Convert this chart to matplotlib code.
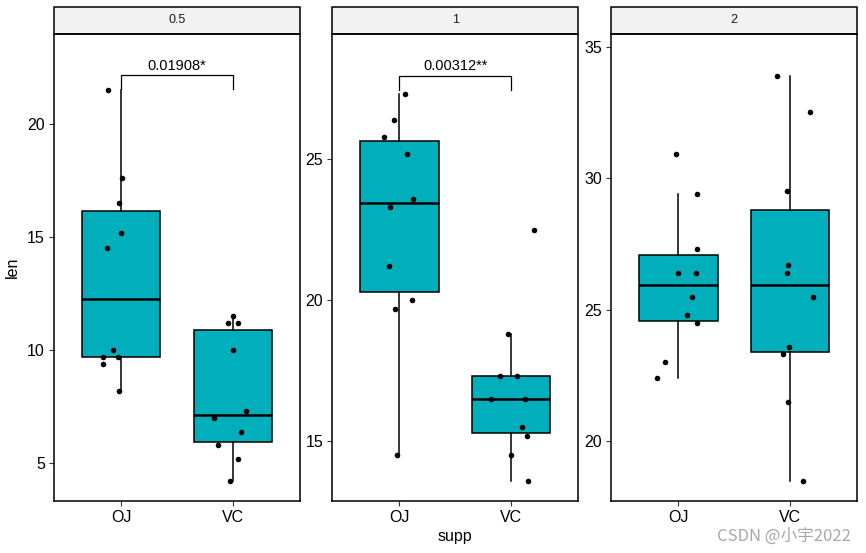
import numpy as np
import matplotlib
matplotlib.use("Agg")
import matplotlib.pyplot as plt
from matplotlib.patches import Rectangle

plt.rcParams['font.family'] = ['Liberation Sans', 'DejaVu Sans']

# ToothGrowth data, split by dose (panel) and supplement
doses = ['0.5', '1', '2']
supps = ['OJ', 'VC']

oj_05 = [15.2, 21.5, 17.6, 9.7, 14.5, 10.0, 8.2, 9.4, 16.5, 9.7]
vc_05 = [4.2, 11.5, 7.3, 5.8, 6.4, 10.0, 11.2, 11.2, 5.2, 7.0]
oj_1 = [19.7, 23.3, 23.6, 26.4, 20.0, 25.2, 25.8, 21.2, 14.5, 27.3]
vc_1 = [16.5, 16.5, 15.2, 17.3, 22.5, 17.3, 13.6, 14.5, 18.8, 15.5]
oj_2 = [25.5, 26.4, 22.4, 24.5, 24.8, 30.9, 26.4, 27.3, 29.4, 23.0]
vc_2 = [23.6, 18.5, 33.9, 25.5, 26.4, 32.5, 26.7, 21.5, 23.3, 29.5]

# horizontal jitter (in category units)
jit_oj_05 = [0.0, -0.12, 0.01, -0.16, -0.13, -0.07, -0.02, -0.16, -0.02, -0.03]
jit_vc_05 = [-0.03, 0.0, 0.12, -0.13, 0.07, 0.0, -0.04, 0.05, 0.05, -0.17]
jit_oj_1 = [-0.04, -0.08, 0.12, -0.05, 0.11, 0.07, -0.14, -0.09, -0.02, 0.05]
jit_vc_1 = [-0.18, 0.12, 0.14, -0.10, 0.20, 0.05, 0.15, 0.0, -0.03, 0.10]
jit_oj_2 = [0.12, 0.0, -0.19, 0.17, 0.08, -0.02, 0.16, 0.17, 0.17, -0.12]
jit_vc_2 = [-0.01, 0.11, -0.12, 0.20, -0.03, 0.18, -0.02, -0.02, -0.06, -0.03]

# p-value labels (None = not shown)
p_labels = ['0.01908*', '0.00312**', None]
bracket_y = [22.15, 27.96, None]
bracket_leg = [21.55, 27.47, None]

ylims = [(3.33, 23.98), (12.88, 29.44), (17.73, 35.48)]
yticks = [[5, 10, 15, 20], [15, 20, 25], [20, 25, 30, 35]]

data = [(oj_05, vc_05), (oj_1, vc_1), (oj_2, vc_2)]
jits = [(jit_oj_05, jit_vc_05), (jit_oj_1, jit_vc_1), (jit_oj_2, jit_vc_2)]

fig = plt.figure(figsize=(8.66, 5.53), dpi=100)
lefts = [54 / 866, 332.3 / 866, 611.3 / 866]
bottom = 1 - 501 / 553
height = (501 - 34) / 553
width = 246 / 866
strip_h = 27.5 / 467

box_col = '#00AFBB'
for i, d in enumerate(doses):
    ax = fig.add_axes([lefts[i], bottom, width, height])
    groups = data[i]
    ax.boxplot(groups, positions=[1, 2], widths=0.7, patch_artist=True,
               showfliers=False, showcaps=False,
               boxprops=dict(facecolor=box_col, edgecolor='black', linewidth=1.1),
               medianprops=dict(color='black', linewidth=1.8),
               whiskerprops=dict(color='black', linewidth=1.1),
               zorder=2)
    for k in range(2):
        xs = np.array(jits[i][k]) + (k + 1)
        ax.scatter(xs, groups[k], s=16, color='black', zorder=3, linewidths=0)
    if p_labels[i] is not None:
        ax.plot([1, 1, 2, 2], [bracket_leg[i], bracket_y[i], bracket_y[i], bracket_leg[i]],
                color='black', linewidth=0.9, zorder=4)
        ax.text(1.5, bracket_y[i] + (ylims[i][1] - ylims[i][0]) * 0.006, p_labels[i],
                ha='center', va='bottom', fontsize=10.5)
    ax.set_xlim(0.4, 2.6)
    ax.set_ylim(*ylims[i])
    ax.set_yticks(yticks[i])
    ax.set_xticks([1, 2])
    ax.set_xticklabels(supps)
    ax.tick_params(axis='both', direction='out', length=3.5, width=0.8, color='#333333',
                   labelsize=11.5, labelcolor='black', pad=3)
    for sp in ax.spines.values():
        sp.set_linewidth(1.1)
        sp.set_color('black')
    strip = Rectangle((0, 1), 1, strip_h, transform=ax.transAxes, clip_on=False,
                      facecolor='#F2F2F2', edgecolor='black', linewidth=1.1)
    ax.add_patch(strip)
    ax.text(0.5, 1 + strip_h / 2, d, transform=ax.transAxes, ha='center', va='center',
            fontsize=9, color='#1A1A1A')
    if i == 0:
        ax.set_ylabel('len', fontsize=11.5, labelpad=5)
    if i == 1:
        ax.set_xlabel('supp', fontsize=11.5, labelpad=3)

fig.text(0.983, 0.03, 'CSDN @小宇2022', ha='right', va='center', fontsize=12,
         color='#A8A8A8', family=['Noto Sans CJK SC', 'DejaVu Sans'])

fig.savefig('out.png', dpi=100)
